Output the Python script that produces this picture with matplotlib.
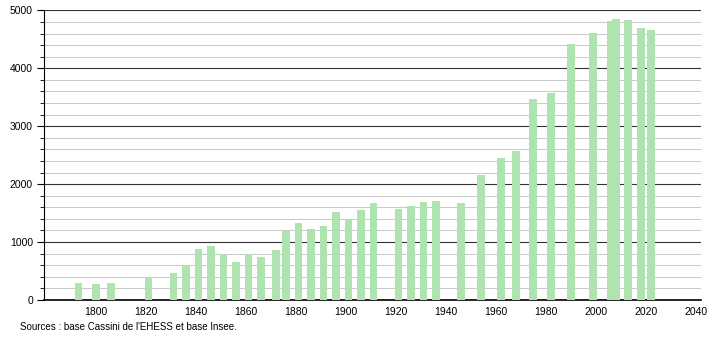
import matplotlib.pyplot as plt
from matplotlib.ticker import MultipleLocator

plt.rcParams['font.family'] = ['Liberation Sans', 'DejaVu Sans']

# Données de population
annees = [1793, 1800, 1806, 1821, 1831, 1836, 1841, 1846, 1851, 1856,
          1861, 1866, 1872, 1876, 1881, 1886, 1891, 1896, 1901, 1906,
          1911, 1921, 1926, 1931, 1936, 1946, 1954, 1962, 1968, 1975,
          1982, 1990, 1999, 2006, 2008, 2013, 2018, 2022]
population = [300, 277, 300, 393, 473, 607, 872, 924, 792, 660,
              792, 734, 855, 1190, 1323, 1230, 1282, 1513, 1404, 1548,
              1681, 1566, 1629, 1687, 1716, 1681, 2155, 2444, 2565, 3472,
              3570, 4414, 4604, 4813, 4853, 4835, 4697, 4662]
ticks_x = list(range(1800, 2041, 20))
source = "Sources : base Cassini de l'EHESS et base Insee."

fig = plt.figure(figsize=(7.1, 3.4), dpi=100)
ax = fig.add_axes([0.062, 0.1176, 0.925, 0.852])

ax.bar(annees, population, width=3.1, color='#afe3b0', zorder=3)

ax.set_xlim(1779.2, 2042)
ax.set_ylim(0, 5000)
ax.set_xticks(ticks_x)
ax.yaxis.set_major_locator(MultipleLocator(1000))
ax.yaxis.set_minor_locator(MultipleLocator(200))

ax.grid(axis='y', which='major', color='#333333', linewidth=0.8, zorder=1)
ax.grid(axis='y', which='minor', color='#c8c8c8', linewidth=0.7, zorder=1)

for s in ('top', 'right'):
    ax.spines[s].set_visible(False)
ax.spines['left'].set_color('black')
ax.spines['bottom'].set_color('black')
ax.spines['bottom'].set_linewidth(1.2)

ax.tick_params(axis='x', length=0, labelsize=7.5, pad=5)
ax.tick_params(axis='y', which='major', length=5, labelsize=7.5, pad=3)
ax.tick_params(axis='y', which='minor', length=3)

fig.text(20 / 710, 1 - 327 / 340, source, fontsize=7, va='center', ha='left')

fig.savefig('out.png', dpi=100)
